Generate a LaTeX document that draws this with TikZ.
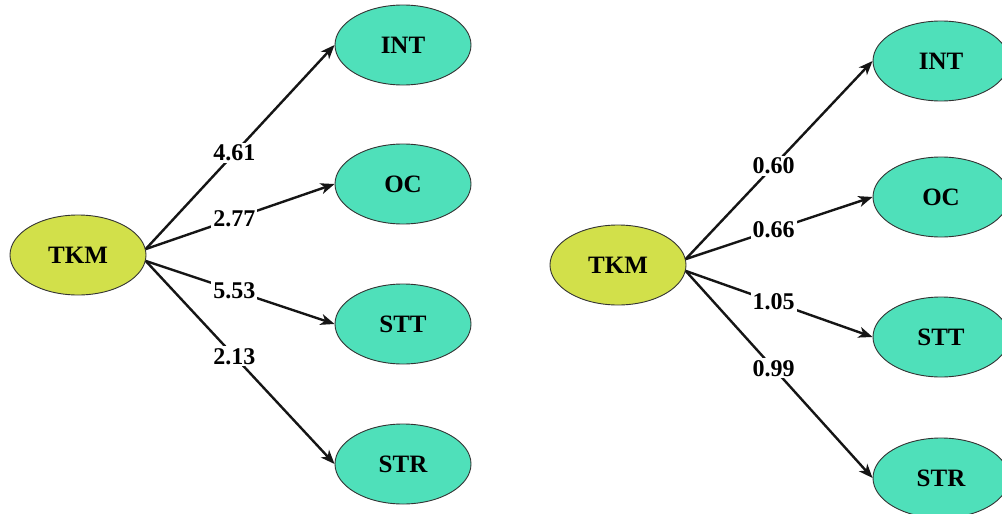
\documentclass[tikz,border=0pt]{standalone}
\usepackage{fontspec}
\setmainfont{Liberation Serif}
\usetikzlibrary{positioning,arrows.meta,shapes.geometric}
\definecolor{lime}{HTML}{D2E04A}
\definecolor{mint}{HTML}{4FE0BA}
\definecolor{edge}{HTML}{151515}
\definecolor{rim}{HTML}{333333}

\tikzset{
  latent/.style={ellipse,draw=rim,line width=0.9pt,minimum width=136pt,minimum height=80pt,inner sep=0pt,font=\bfseries\fontsize{25}{29}\selectfont},
  source/.style={latent,fill=lime},
  target/.style={latent,fill=mint},
  effect/.style={-{Stealth[length=14pt,width=11pt,inset=4pt]},line width=2.4pt,draw=edge},
  coef/.style={fill=white,inner sep=2pt,pos=0.47,font=\bfseries\fontsize{24}{28}\selectfont},
}

\begin{document}
\begin{tikzpicture}[x=1pt,y=-1pt]
\useasboundingbox[fill=white] (0,0) rectangle (1002,514);
% left model
\node[source] (tkmA) at (78,255) {TKM};
\foreach \name/\lab/\y in {intA/INT/45,ocA/OC/184,sttA/STT/324,strA/STR/464}
  \node[target] (\name) at (403,\y) {\lab};
\draw[effect] (tkmA.5) -- node[coef]{4.61} (intA.west);
\draw[effect] (tkmA.5) -- node[coef]{2.77} (ocA.west);
\draw[effect] (tkmA.-5) -- node[coef]{5.53} (sttA.west);
\draw[effect] (tkmA.-5) -- node[coef]{2.13} (strA.west);
% right model
\node[source] (tkmB) at (618,265) {TKM};
\foreach \name/\lab/\y in {intB/INT/61,ocB/OC/197,sttB/STT/337,strB/STR/478}
  \node[target] (\name) at (941,\y) {\lab};
\draw[effect] (tkmB.5) -- node[coef]{0.60} (intB.west);
\draw[effect] (tkmB.5) -- node[coef]{0.66} (ocB.west);
\draw[effect] (tkmB.-5) -- node[coef]{1.05} (sttB.west);
\draw[effect] (tkmB.-5) -- node[coef]{0.99} (strB.west);
\end{tikzpicture}
\end{document}
